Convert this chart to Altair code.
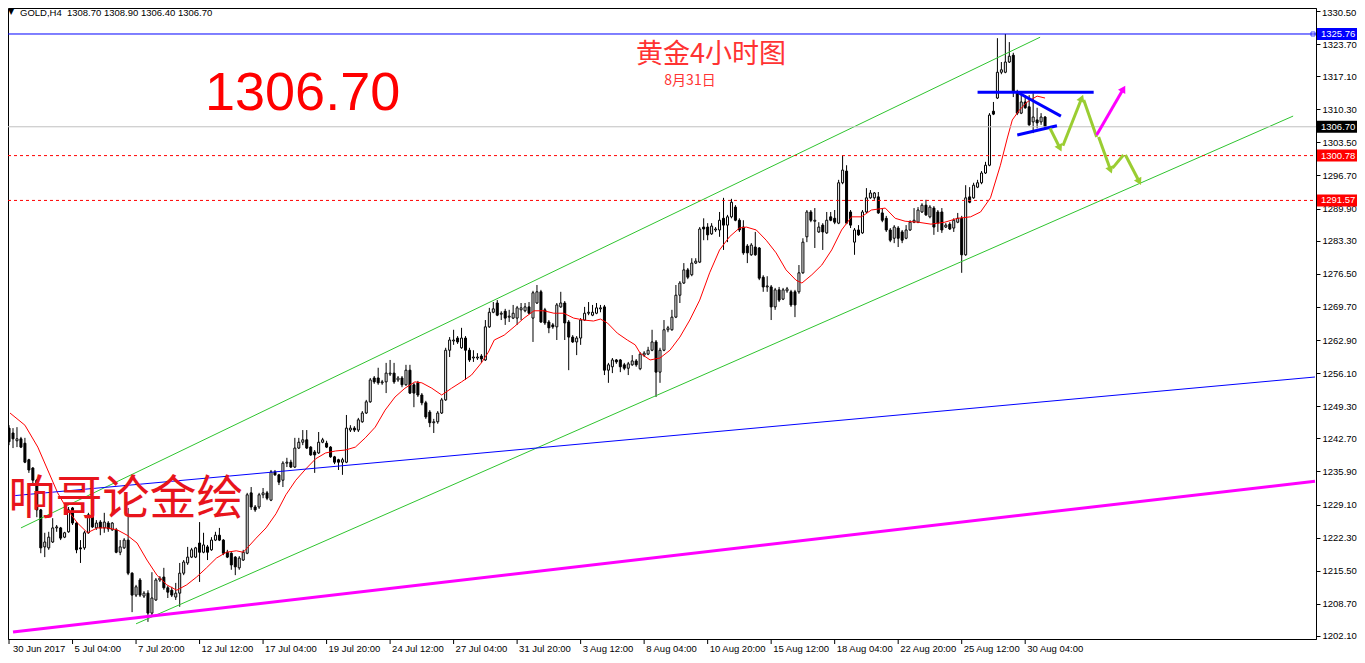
import math
import altair as alt
import pandas as pd
import numpy as np

# ---------------- data (GOLD H4, bar 0 = 30 Jun 2017 00:00) ----------------
opens = [1244.8, 1243.8, 1242.2, 1242.6, 1241.7, 1238.3, 1236.6, 1234.1, 1228.0, 1220.4,
 1220.2, 1221.4, 1224.3, 1224.3, 1222.4, 1223.5, 1228.4, 1225.3, 1220.2, 1220.2,
 1223.3, 1227.0, 1224.3, 1225.5, 1224.3, 1225.3, 1223.9, 1223.9, 1219.3, 1220.2,
 1221.8, 1215.0, 1210.5, 1213.6, 1210.3, 1210.9, 1206.8, 1209.5, 1213.6, 1214.2,
 1212.0, 1211.5, 1210.1, 1210.9, 1215.0, 1217.1, 1218.3, 1218.3, 1221.2, 1219.3,
 1220.4, 1219.8, 1221.8, 1222.8, 1221.8, 1219.3, 1219.1, 1218.3, 1216.1, 1217.7,
 1219.1, 1231.5, 1228.6, 1228.6, 1231.1, 1231.5, 1230.0, 1235.8, 1235.2, 1234.1,
 1237.6, 1237.8, 1236.8, 1240.7, 1241.9, 1242.4, 1240.9, 1239.9, 1239.7, 1241.9,
 1241.7, 1240.9, 1238.9, 1238.3, 1237.8, 1237.8, 1244.4, 1244.8, 1244.4, 1246.1,
 1247.9, 1250.2, 1255.1, 1255.1, 1254.1, 1254.3, 1255.9, 1256.1, 1254.7, 1255.1,
 1253.7, 1256.7, 1253.7, 1254.1, 1251.6, 1250.0, 1248.1, 1245.9, 1246.1, 1247.9,
 1250.6, 1260.8, 1262.7, 1263.3, 1261.3, 1263.3, 1260.8, 1259.2, 1259.2, 1259.6,
 1258.8, 1265.6, 1268.6, 1270.5, 1268.2, 1268.8, 1267.6, 1267.4, 1267.4, 1269.1,
 1268.9, 1269.7, 1267.4, 1270.5, 1272.8, 1269.1, 1266.6, 1266.0, 1265.6, 1269.7,
 1270.5, 1266.6, 1263.5, 1262.5, 1263.3, 1267.0, 1268.4, 1268.0, 1268.4, 1269.3,
 1269.7, 1256.7, 1257.4, 1258.8, 1258.8, 1257.8, 1257.1, 1257.8, 1258.6, 1257.0,
 1259.8, 1260.0, 1260.8, 1262.5, 1256.3, 1260.8, 1265.0, 1265.0, 1267.6, 1272.1,
 1274.6, 1277.3, 1276.3, 1278.7, 1278.9, 1286.1, 1286.1, 1284.7, 1285.5, 1285.5,
 1287.9, 1286.5, 1288.2, 1290.2, 1287.5, 1286.1, 1282.2, 1280.4, 1282.0, 1281.8,
 1275.8, 1273.8, 1273.8, 1269.7, 1273.2, 1271.3, 1273.0, 1272.8, 1272.8, 1272.8,
 1276.7, 1284.1, 1289.2, 1287.3, 1285.1, 1286.5, 1284.9, 1288.2, 1287.9, 1286.9,
 1295.2, 1297.6, 1289.2, 1283.0, 1285.5, 1284.9, 1289.2, 1292.1, 1292.1, 1292.3,
 1289.0, 1287.9, 1285.5, 1283.8, 1285.9, 1285.1, 1283.8, 1285.5, 1287.1, 1287.1,
 1289.2, 1290.6, 1288.2, 1290.0, 1289.2, 1289.2, 1286.1, 1286.7, 1285.9, 1287.1,
 1287.9, 1280.4, 1292.3, 1292.1, 1294.3, 1295.2, 1297.2, 1298.8, 1309.9, 1312.6,
 1317.9, 1317.9, 1320.0, 1321.4, 1313.8, 1309.5, 1311.8, 1310.8, 1307.7, 1308.1,
 1307.7, 1308.70]

highs = [1245.4, 1244.8, 1245.0, 1243.0, 1242.8, 1238.5, 1236.8, 1234.3, 1228.2, 1223.3,
 1223.5, 1226.3, 1224.9, 1224.5, 1223.5, 1228.6, 1228.6, 1225.5, 1221.8, 1223.7,
 1227.4, 1229.0, 1225.9, 1225.9, 1227.4, 1225.7, 1225.5, 1224.3, 1221.8, 1222.2,
 1228.4, 1215.2, 1212.6, 1214.0, 1211.3, 1211.5, 1215.2, 1214.0, 1214.4, 1216.1,
 1212.4, 1212.2, 1213.0, 1217.1, 1217.7, 1220.4, 1220.2, 1220.4, 1225.5, 1223.3,
 1220.8, 1222.4, 1223.5, 1224.3, 1222.0, 1219.8, 1219.3, 1218.5, 1218.5, 1219.8,
 1231.5, 1232.7, 1229.0, 1231.5, 1232.5, 1231.9, 1236.2, 1236.2, 1235.4, 1238.0,
 1238.7, 1238.3, 1242.8, 1242.8, 1244.4, 1244.4, 1241.1, 1240.3, 1244.0, 1242.8,
 1242.2, 1241.1, 1239.1, 1238.5, 1238.7, 1247.5, 1245.4, 1245.2, 1246.9, 1248.3,
 1250.6, 1255.1, 1255.5, 1257.2, 1254.7, 1258.2, 1258.8, 1258.2, 1255.5, 1255.5,
 1257.8, 1257.8, 1254.1, 1254.5, 1252.0, 1250.4, 1248.5, 1246.7, 1248.3, 1251.0,
 1261.3, 1263.5, 1265.0, 1263.7, 1265.4, 1263.7, 1261.3, 1260.8, 1260.2, 1260.0,
 1267.0, 1269.5, 1270.7, 1271.1, 1268.8, 1269.3, 1269.1, 1270.1, 1269.9, 1270.5,
 1270.5, 1270.7, 1273.0, 1274.2, 1273.2, 1269.5, 1267.0, 1266.4, 1270.5, 1272.8,
 1270.9, 1267.0, 1263.9, 1263.7, 1267.4, 1269.7, 1270.7, 1270.1, 1270.5, 1270.1,
 1270.1, 1258.2, 1259.2, 1259.0, 1259.0, 1258.2, 1258.4, 1259.8, 1259.0, 1260.4,
 1260.6, 1261.5, 1265.0, 1262.9, 1261.3, 1267.0, 1265.8, 1269.1, 1274.2, 1275.0,
 1278.7, 1277.7, 1279.7, 1279.7, 1286.1, 1287.9, 1286.9, 1286.9, 1286.1, 1289.2,
 1292.1, 1288.6, 1291.9, 1290.6, 1287.9, 1287.5, 1282.6, 1282.8, 1285.1, 1282.0,
 1276.2, 1276.0, 1274.2, 1273.6, 1273.8, 1273.6, 1273.8, 1273.2, 1273.2, 1278.3,
 1283.8, 1289.6, 1289.6, 1290.0, 1287.1, 1286.9, 1289.2, 1289.2, 1289.6, 1295.8,
 1300.9, 1298.8, 1289.6, 1285.9, 1286.5, 1289.6, 1294.1, 1293.7, 1293.3, 1293.3,
 1290.0, 1288.4, 1285.9, 1286.5, 1286.3, 1285.5, 1286.5, 1287.5, 1290.0, 1290.2,
 1291.0, 1291.7, 1290.6, 1290.4, 1289.6, 1290.0, 1286.9, 1287.1, 1287.9, 1289.0,
 1288.4, 1294.7, 1294.3, 1295.2, 1295.8, 1297.6, 1299.5, 1309.5, 1311.8, 1324.9,
 1320.0, 1325.76, 1324.1, 1321.9, 1314.3, 1313.6, 1313.2, 1313.2, 1313.6, 1310.6,
 1309.5, 1308.90]

lows = [1241.3, 1240.7, 1240.9, 1240.7, 1237.6, 1235.6, 1233.5, 1226.5, 1219.1, 1218.3,
 1219.8, 1221.2, 1223.5, 1221.8, 1222.2, 1223.3, 1224.9, 1219.1, 1217.1, 1219.8,
 1223.1, 1224.3, 1223.9, 1222.8, 1223.3, 1223.5, 1223.7, 1219.1, 1218.7, 1220.0,
 1214.6, 1207.0, 1210.1, 1210.1, 1209.9, 1205.0, 1206.4, 1209.3, 1213.2, 1211.6,
 1209.9, 1210.1, 1209.5, 1208.1, 1214.6, 1216.7, 1218.1, 1218.1, 1213.2, 1219.1,
 1217.7, 1219.6, 1221.6, 1221.6, 1218.7, 1218.1, 1215.7, 1214.6, 1215.7, 1217.5,
 1218.9, 1228.0, 1227.6, 1228.2, 1230.4, 1230.0, 1229.8, 1235.0, 1233.1, 1232.7,
 1236.8, 1236.6, 1236.6, 1240.5, 1241.3, 1240.5, 1239.1, 1235.6, 1239.5, 1241.7,
 1240.7, 1238.7, 1237.4, 1236.2, 1235.2, 1237.6, 1244.0, 1244.0, 1244.0, 1245.9,
 1247.7, 1250.0, 1253.9, 1253.7, 1253.7, 1252.0, 1255.5, 1253.9, 1254.3, 1253.2,
 1253.5, 1251.8, 1249.1, 1251.2, 1249.5, 1246.7, 1245.0, 1243.8, 1245.7, 1247.7,
 1250.4, 1259.4, 1261.9, 1262.1, 1261.1, 1254.7, 1258.4, 1258.4, 1258.8, 1258.2,
 1258.6, 1265.4, 1268.4, 1267.8, 1267.0, 1266.0, 1266.6, 1267.2, 1266.0, 1267.0,
 1268.6, 1268.2, 1262.5, 1270.3, 1266.4, 1266.0, 1264.3, 1265.2, 1262.9, 1269.5,
 1262.9, 1256.7, 1262.3, 1259.8, 1261.9, 1266.8, 1268.0, 1267.8, 1268.2, 1268.6,
 1255.7, 1254.1, 1256.1, 1258.0, 1256.3, 1256.7, 1255.7, 1257.6, 1257.4, 1256.7,
 1259.4, 1259.8, 1260.6, 1251.2, 1254.1, 1260.6, 1264.5, 1264.8, 1267.4, 1270.5,
 1274.4, 1275.4, 1276.0, 1278.5, 1278.7, 1283.4, 1283.4, 1284.5, 1285.1, 1284.1,
 1281.4, 1283.0, 1287.9, 1287.3, 1285.1, 1280.4, 1278.7, 1280.2, 1280.2, 1275.2,
 1272.8, 1272.8, 1267.0, 1269.1, 1270.7, 1271.1, 1272.6, 1269.7, 1267.6, 1272.4,
 1276.5, 1283.0, 1287.1, 1281.8, 1284.9, 1281.4, 1284.7, 1287.3, 1286.7, 1286.7,
 1294.9, 1286.7, 1285.9, 1280.4, 1284.3, 1284.7, 1289.0, 1291.9, 1291.7, 1288.8,
 1287.1, 1285.1, 1283.0, 1282.8, 1282.0, 1282.8, 1283.6, 1285.3, 1286.9, 1286.9,
 1289.0, 1288.4, 1287.9, 1284.5, 1285.1, 1284.9, 1285.9, 1285.5, 1285.1, 1286.9,
 1276.7, 1280.2, 1291.0, 1291.9, 1294.1, 1294.9, 1297.0, 1298.6, 1309.1, 1312.4,
 1317.5, 1317.7, 1319.8, 1312.8, 1309.1, 1309.3, 1310.4, 1306.9, 1305.4, 1306.4,
 1307.1, 1306.40]

closes = [1242.0, 1242.6, 1242.6, 1240.9, 1237.8, 1236.2, 1234.1, 1228.0, 1220.2, 1221.4,
 1222.4, 1224.3, 1224.5, 1222.2, 1223.3, 1228.0, 1225.3, 1219.8, 1220.0, 1223.3,
 1227.0, 1224.5, 1225.3, 1224.3, 1225.5, 1224.1, 1225.3, 1219.3, 1220.4, 1221.8,
 1215.0, 1210.5, 1212.2, 1210.5, 1210.9, 1206.8, 1209.9, 1213.6, 1214.0, 1212.0,
 1211.1, 1210.5, 1210.9, 1215.0, 1217.3, 1218.3, 1219.8, 1220.2, 1219.3, 1220.8,
 1219.3, 1221.8, 1222.8, 1221.8, 1219.1, 1218.3, 1216.7, 1216.3, 1218.1, 1219.3,
 1231.1, 1228.6, 1228.0, 1231.1, 1231.5, 1230.4, 1235.8, 1235.2, 1233.7, 1237.6,
 1237.8, 1236.8, 1240.7, 1241.9, 1242.4, 1240.7, 1239.3, 1239.3, 1241.9, 1242.4,
 1240.9, 1238.9, 1237.8, 1237.8, 1238.3, 1244.8, 1244.8, 1244.4, 1246.5, 1247.9,
 1250.2, 1254.7, 1254.3, 1254.1, 1254.3, 1256.1, 1256.1, 1254.3, 1255.1, 1253.7,
 1256.7, 1252.0, 1252.0, 1251.6, 1250.0, 1247.1, 1245.9, 1246.1, 1247.9, 1250.6,
 1260.8, 1262.9, 1262.9, 1262.5, 1263.3, 1260.8, 1258.8, 1259.4, 1259.4, 1259.0,
 1265.6, 1268.6, 1269.3, 1268.0, 1268.4, 1267.4, 1267.8, 1268.4, 1269.5, 1269.5,
 1269.7, 1268.4, 1272.6, 1272.8, 1266.6, 1266.4, 1265.4, 1265.6, 1270.1, 1270.5,
 1266.4, 1263.5, 1262.5, 1263.3, 1267.0, 1268.4, 1268.6, 1268.6, 1269.5, 1269.5,
 1256.7, 1257.8, 1258.8, 1258.4, 1257.4, 1257.1, 1258.0, 1258.6, 1257.8, 1260.0,
 1260.2, 1260.8, 1262.5, 1256.3, 1260.8, 1265.0, 1265.4, 1267.6, 1272.1, 1274.6,
 1277.3, 1275.8, 1278.7, 1279.1, 1285.7, 1285.7, 1284.5, 1286.3, 1285.7, 1287.5,
 1286.5, 1288.2, 1291.2, 1287.5, 1285.5, 1280.8, 1280.8, 1282.4, 1280.4, 1275.6,
 1273.8, 1274.0, 1269.7, 1273.2, 1271.1, 1273.2, 1273.4, 1270.1, 1270.1, 1276.7,
 1283.0, 1289.2, 1287.5, 1287.5, 1286.1, 1285.1, 1287.5, 1287.5, 1287.1, 1295.2,
 1297.8, 1286.9, 1286.5, 1285.5, 1284.5, 1289.2, 1292.1, 1293.1, 1293.1, 1289.0,
 1287.5, 1285.5, 1283.4, 1286.1, 1283.8, 1283.4, 1285.5, 1287.1, 1287.5, 1289.6,
 1290.6, 1288.6, 1290.2, 1286.1, 1286.9, 1285.5, 1286.5, 1285.7, 1287.5, 1287.9,
 1280.4, 1292.1, 1291.2, 1294.7, 1295.2, 1297.2, 1298.8, 1309.1, 1309.3, 1317.9,
 1318.4, 1320.0, 1321.2, 1313.8, 1309.5, 1311.8, 1310.6, 1307.1, 1308.7, 1307.5,
 1308.7, 1306.70]

# red moving-average line (bar index, price)
ma_idx = [0.25, 4, 7.25, 9.75, 12.25, 14.75, 17.25, 19.75, 22.25, 24.75,
 27.25, 29.75, 32.25, 34.75, 37.25, 39.75, 42.25, 44.75, 47.25, 49.75,
 52.25, 54.75, 57.25, 59, 60.25, 62.25, 64.75, 67.25, 69.75, 72.25,
 74.75, 77.25, 79.75, 82.25, 84.75, 87.25, 89.75, 92.25, 94.75, 97.25,
 99.75, 102.25, 104, 106.5, 109, 111.5, 114, 116.5, 119, 120.75,
 122.25, 124.75, 127.25, 129.75, 132.25, 134.75, 137.25, 139.75, 142.25, 144.75,
 147.25, 149, 150.75, 153.25, 155.75, 157.75, 159, 161.5, 164, 166.5,
 169, 171.5, 174, 176.5, 179, 181.5, 184, 185.75, 188.25, 190.75,
 193.25, 195.75, 198.25, 199.75, 202.25, 204.75, 207.25, 209.75, 212.25, 214.75,
 217.25, 220.75, 223.25, 225.75, 229, 232.25, 235.75, 239, 242.25, 244.75,
 247.25, 249.75, 251.5, 252.75, 254.5, 256.5, 259, 261]
ma_val = [1247.9, 1245.4, 1240.9, 1236.2, 1231.5, 1228.0, 1225.3, 1223.3, 1224.3, 1224.3,
 1223.9, 1222.8, 1221.2, 1217.7, 1214.6, 1212.6, 1211.5, 1212.6, 1214.2, 1216.1,
 1218.1, 1219.3, 1219.6, 1219.3, 1220.4, 1222.2, 1224.3, 1227.2, 1231.1, 1234.1,
 1236.4, 1238.5, 1239.7, 1240.1, 1240.3, 1240.9, 1242.8, 1245.0, 1248.5, 1251.2,
 1253.0, 1254.3, 1254.1, 1253.0, 1251.6, 1253.0, 1254.3, 1255.7, 1258.2, 1260.4,
 1262.9, 1263.9, 1265.6, 1267.4, 1268.9, 1268.9, 1268.4, 1268.4, 1267.4, 1267.0,
 1266.8, 1267.2, 1266.4, 1264.3, 1262.9, 1261.9, 1260.2, 1258.8, 1259.2, 1260.8,
 1263.5, 1267.0, 1271.1, 1276.7, 1281.4, 1284.1, 1285.9, 1286.1, 1285.5, 1283.4,
 1280.8, 1277.3, 1275.2, 1274.6, 1276.3, 1278.3, 1281.4, 1285.5, 1288.2, 1288.2,
 1289.6, 1290.0, 1287.9, 1287.3, 1287.1, 1286.7, 1287.1, 1287.9, 1288.2, 1289.2,
 1292.1, 1298.8, 1304.4, 1308.1, 1310.1, 1311.8, 1313.0, 1312.6]

# time-axis labels (every 16 bars)
xlab_idx = [0, 16, 32, 48, 64, 80, 96, 112, 128, 144, 160, 176, 192, 208, 224, 240, 256]
xlab_txt = ["30 Jun 2017", "5 Jul 04:00", "7 Jul 20:00", "12 Jul 12:00", "17 Jul 04:00",
            "19 Jul 20:00", "24 Jul 12:00", "27 Jul 04:00", "31 Jul 20:00", "3 Aug 12:00",
            "8 Aug 04:00", "10 Aug 20:00", "15 Aug 12:00", "18 Aug 04:00", "22 Aug 20:00",
            "25 Aug 12:00", "30 Aug 04:00"]

# price-axis ticks
y_ticks = [1330.50, 1323.70, 1317.10, 1310.30, 1303.50, 1296.70, 1289.90, 1283.30, 1276.50,
           1269.70, 1262.90, 1256.10, 1249.30, 1242.70, 1235.90, 1229.10, 1222.30, 1215.50,
           1208.70, 1202.10]

# horizontal levels
lvl_blue = 1325.76
lvl_last = 1306.70
lvl_red = [1300.78, 1291.57]

# drawn trend lines: start bar, start price, end bar, end price
tl_x1 = [3, 32, 1, 1]
tl_p1 = [1224.3, 1204.6, 1230.9, 1202.9]
tl_x2 = [259.75, 323.5, 329, 329]
tl_p2 = [1325.1, 1308.9, 1255.3, 1233.9]
tl_col = ["#2fc42f", "#2fc42f", "#0000ff", "#ff00ff"]
tl_w = [1, 1, 1, 3]

# triangle pattern
tri_x1 = [244, 254.5, 254]
tri_p1 = [1313.8, 1313.6, 1305.0]
tri_x2 = [273.25, 265, 264]
tri_p2 = [1313.8, 1308.9, 1306.9]

# projected-path arrows
arr_x1 = [262.25, 265.5, 270.75, 274.5, 278, 281.25, 274]
arr_p1 = [1306.4, 1302.8, 1312.2, 1304.6, 1298.2, 1300.9, 1305.0]
arr_x2 = [264.75, 270.25, 274, 277.5, 280.75, 284.75, 280.75]
arr_p2 = [1302.3, 1312.6, 1304.6, 1297.8, 1300.9, 1295.4, 1314.5]
arr_col = ["#9acd32"] * 6 + ["#ff00ff"]
arr_head = [True, True, False, True, False, True, True]

# ---------------- layout ----------------
W, H = 1308, 631
XD = [1, 328]
YD = [1201.48, 1331.10]
xs = alt.Scale(domain=XD, nice=False, zero=False)
ys = alt.Scale(domain=YD, nice=False, zero=False)
kx = W / (XD[1] - XD[0])
ky = H / (YD[1] - YD[0])
TOP_TICK = y_ticks[0]

yax = alt.Axis(orient="right", values=y_ticks, format=".2f", title=None, grid=False,
               tickSize=4, tickColor="black", domainColor="black", labelColor="black",
               labelFont="Liberation Sans", labelFontSize=9.5, labelPadding=2,
               labelOverlap=False, labelFlush=False,
               labelExpr="datum.value > %f ? '' : format(datum.value, '.2f')" % (TOP_TICK - 0.01))

def X(f):
    return alt.X(f, type="quantitative", scale=xs, axis=None)

def Y(f):
    return alt.Y(f, type="quantitative", scale=ys, axis=yax)

n = len(closes)
cdf = pd.DataFrame({"i": list(range(n)), "o": opens, "h": highs, "l": lows, "c": closes})
cdf["dir"] = np.where(cdf["c"] >= cdf["o"], "up", "down")

wick = alt.Chart(cdf).mark_rule(color="black", strokeWidth=1, clip=True).encode(
    x=X("i"), y=Y("l"), y2="h")
body = alt.Chart(cdf).mark_bar(size=2, stroke="black", strokeWidth=1, clip=True).encode(
    x=X("i"), y=Y("o"), y2="c",
    fill=alt.Fill("dir:N", scale=alt.Scale(domain=["up", "down"], range=["white", "black"]),
                  legend=None))

ma = alt.Chart(pd.DataFrame({"i": ma_idx, "p": ma_val})).mark_line(
    color="#ff0000", strokeWidth=1, clip=True).encode(x=X("i"), y=Y("p"))

tl_df = pd.DataFrame({"x1": tl_x1, "p1": tl_p1, "x2": tl_x2, "p2": tl_p2, "col": tl_col, "w": tl_w})
trend = alt.Chart(tl_df).mark_rule(clip=True).encode(
    x=X("x1"), y=Y("p1"), x2="x2", y2="p2",
    color=alt.Color("col:N", scale=None), strokeWidth=alt.StrokeWidth("w:Q", scale=None))

lv_df = pd.DataFrame({"p": [lvl_blue]})
lv_blue = alt.Chart(lv_df).mark_rule(color="#0000ff", strokeWidth=1).encode(
    y=Y("p"), x=alt.value(0), x2=alt.value(W))
lv_gray = alt.Chart(pd.DataFrame({"p": [lvl_last]})).mark_rule(color="#c0c0c0", strokeWidth=1).encode(
    y=Y("p"), x=alt.value(0), x2=alt.value(W))
lv_red = alt.Chart(pd.DataFrame({"p": lvl_red})).mark_rule(
    color="#ff0000", strokeWidth=1, strokeDash=[3, 3]).encode(
    y=Y("p"), x=alt.value(0), x2=alt.value(W))
sq = alt.Chart(lv_df).mark_point(shape="square", size=16, color="#0000ff", filled=False,
                                 strokeWidth=1).encode(y=Y("p"), x=alt.value(W - 3))

tri_df = pd.DataFrame({"x1": tri_x1, "p1": tri_p1, "x2": tri_x2, "p2": tri_p2})
tri = alt.Chart(tri_df).mark_rule(color="#0000ff", strokeWidth=3, clip=True).encode(
    x=X("x1"), y=Y("p1"), x2="x2", y2="p2")

ar_df = pd.DataFrame({"x1": arr_x1, "p1": arr_p1, "x2": arr_x2, "p2": arr_p2,
                      "col": arr_col, "head": arr_head})
ar_df["ang"] = [(math.degrees(math.atan2((b - a) * kx, (q - p) * ky)) + 360) % 360
                for a, p, b, q in zip(arr_x1, arr_p1, arr_x2, arr_p2)]
arrows = alt.Chart(ar_df).mark_rule(strokeWidth=3, clip=True).encode(
    x=X("x1"), y=Y("p1"), x2="x2", y2="p2", color=alt.Color("col:N", scale=None))
heads = alt.Chart(ar_df[ar_df["head"]]).mark_point(shape="triangle-up", size=70, filled=True,
                                                   opacity=1).encode(
    x=X("x2"), y=Y("p2"), color=alt.Color("col:N", scale=None),
    angle=alt.Angle("ang:Q", scale=None))

# right-axis highlighted price boxes
hb_df = pd.DataFrame({"p": [lvl_blue, lvl_last, lvl_red[0], lvl_red[1]],
                      "t": ["%.2f" % v for v in [lvl_blue, lvl_last, lvl_red[0], lvl_red[1]]],
                      "bg": ["#0000ff", "#000000", "#ff0000", "#ff0000"]})
hbox = alt.Chart(hb_df).mark_rule(strokeWidth=12).encode(
    y=Y("p"), x=alt.value(W + 1), x2=alt.value(W + 41), color=alt.Color("bg:N", scale=None))
htxt = alt.Chart(hb_df).mark_text(align="left", baseline="middle", font="Liberation Sans",
                                  fontSize=9.5, color="white").encode(
    y=Y("p"), x=alt.value(W + 5), text="t:N")

# time axis (drawn as ticks + text)
xl_df = pd.DataFrame({"i": xlab_idx, "t": xlab_txt})
xl_df["ix"] = [max(v, XD[0] - 0.5) for v in xlab_idx]
xticks = alt.Chart(xl_df).mark_rule(color="black", strokeWidth=1).encode(
    x=X("i"), y=alt.value(H), y2=alt.value(H + 5))
xtext = alt.Chart(xl_df).mark_text(align="left", baseline="middle", font="Liberation Sans",
                                   fontSize=9.5, color="black", dx=2).encode(
    x=X("ix"), y=alt.value(H + 10), text="t:N")

def label(txt, x, y, size, color, font, align="left", baseline="alphabetic", weight="normal"):
    return alt.Chart(pd.DataFrame({"t": [txt]})).mark_text(
        align=align, baseline=baseline, fontSize=size, color=color, font=font,
        fontWeight=weight).encode(text="t:N", x=alt.value(x), y=alt.value(y))

top_lab = label("%.2f" % TOP_TICK, W + 6, 0, 9.5, "black", "Liberation Sans", baseline="top")
hdr_tri = label("\u25bc", 0, 0, 8, "black", "DejaVu Sans", baseline="top")
hdr = label("GOLD,H4\u00a0 1308.70 1308.90 1306.40 1306.70", 12, 0, 9.5, "black",
            "Liberation Sans", baseline="top")
big = label("1306.70", 197, 102, 54, "#ff0000", "Liberation Sans")
title1 = label("黄金4小时图", 703, 55, 27, "#ff3333", "Noto Sans CJK SC", align="center")
title2 = label("8月31日", 682, 77, 14, "#ff3333", "Noto Sans CJK SC", align="center")
sig = label("响哥论金绘", 118, 492, 47, "#e8141c", "Noto Sans CJK SC", align="center",
            baseline="middle")

chart = alt.layer(
    wick, body, ma, trend, lv_blue, lv_gray, lv_red, sq, tri, arrows, heads,
    hbox, htxt, xticks, xtext, top_lab, hdr_tri, hdr, big, title1, title2, sig
).properties(
    width=W, height=H,
    autosize=alt.AutoSizeParams(type="none"),
    padding={"left": 0, "top": 0, "right": 41, "bottom": 16},
    background="white",
).configure_view(stroke="black", strokeWidth=1)

chart.save("out.html", embed_options={"renderer": "svg", "actions": False})
